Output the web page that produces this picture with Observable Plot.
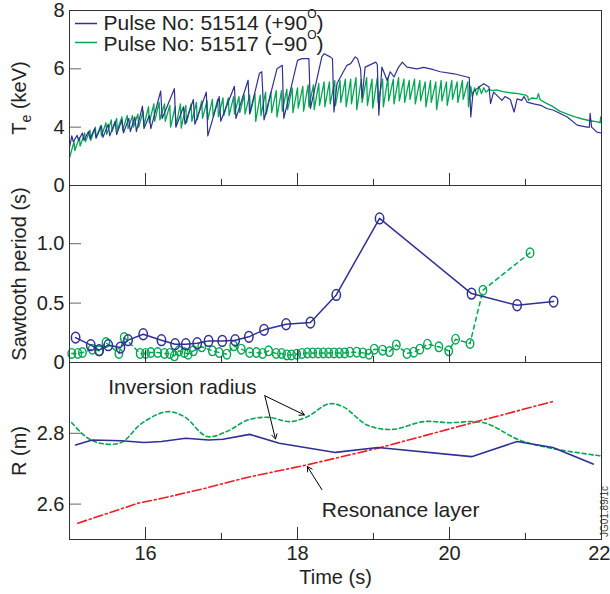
<!DOCTYPE html>
<html><head><meta charset="utf-8">
<script src="https://cdn.jsdelivr.net/npm/d3@7"></script>
<script src="https://cdn.jsdelivr.net/npm/@observablehq/plot@0.6"></script>
<style>
body{margin:0;background:#fff;}
#chart{position:relative;width:610px;height:594px;font-family:"Liberation Sans",Arial,sans-serif;}
#chart svg{position:absolute;left:0;top:0;}
</style></head><body><div id="chart"></div>
<script>
// ---------- DATA ----------
const xTicksMajor = [16, 18, 20, 22];
const xTicksMinor = [17, 19, 21];
const teTicks = [2, 4, 6, 8];
const teTickLabels = ["0", "4", "6", "8"];
const sawTicks = [0, 0.5, 1.0];
const sawTickLabels = ["0", "0.5", "1.0"];
const rTicks = [2.6, 2.8];
const rTickLabels = ["2.6", "2.8"];
const legendLabels = ["Pulse No: 51514 (+90", "Pulse No: 51517 (\u221290"];

// Te traces [time (s), Te (keV)]
const te51514 = [
[15.00,3.30],[15.03,3.70],[15.05,3.50],[15.10,3.72],[15.12,3.55],[15.17,3.80],[15.19,3.55],[15.25,3.85],[15.27,3.60],
[15.33,3.95],[15.35,3.62],[15.42,4.05],[15.44,3.65],[15.51,4.10],[15.53,3.70],[15.60,4.20],[15.62,3.75],[15.69,4.25],
[15.71,3.80],[15.78,4.30],[15.80,3.85],[15.86,4.35],[15.88,3.85],[15.96,4.72],[15.98,3.95],[16.05,4.40],[16.07,3.95],
[16.20,5.24],[16.22,4.30],[16.38,5.32],[16.40,4.00],[16.50,4.70],[16.52,4.10],[16.63,4.95],[16.65,4.10],[16.80,5.20],
[16.82,3.70],[16.97,5.05],[16.99,4.20],[17.17,5.40],[17.19,4.30],[17.35,5.61],[17.37,4.45],[17.50,5.85],[17.53,5.90],
[17.56,4.25],[17.73,6.00],[17.80,6.12],[17.82,4.30],[18.00,6.29],[18.06,6.35],[18.15,6.35],[18.17,4.64],[18.32,6.41],
[18.35,6.52],[18.43,6.41],[18.46,6.35],[18.48,4.52],[18.52,5.50],[18.65,6.12],[18.70,6.18],[18.76,6.41],[18.79,6.35],
[18.83,6.00],[18.85,5.00],[18.89,6.06],[19.03,6.23],[19.05,6.15],[19.07,4.41],[19.11,6.06],[19.18,5.60],[19.22,5.90],
[19.27,5.72],[19.33,6.06],[19.38,6.23],[19.44,6.06],[19.57,6.00],[19.66,6.05],[19.79,5.97],[19.88,5.90],[20.06,5.83],
[20.23,5.72],[20.26,5.70],[20.28,4.35],[20.31,5.20],[20.39,5.38],[20.45,5.49],[20.52,5.38],[20.54,4.81],[20.58,5.20],
[20.69,4.92],[20.73,5.05],[20.80,4.95],[20.85,4.52],[20.89,4.97],[20.95,4.92],[20.98,5.05],[21.02,4.86],[21.11,4.80],
[21.20,4.75],[21.28,4.64],[21.37,4.58],[21.55,4.35],[21.68,4.07],[21.81,4.00],[21.84,4.00],[21.85,4.47],[21.87,4.00],
[21.94,3.83],[22.00,3.80]
];
const te51517 = [
[15.00,2.95],[15.06,3.50],[15.07,3.20],[15.13,3.65],[15.14,3.35],[15.20,3.80],[15.21,3.50],[15.27,3.90],[15.28,3.55],
[15.34,4.00],[15.35,3.65],[15.41,4.05],[15.42,3.70],[15.48,4.15],[15.49,3.75],[15.55,4.25],[15.56,3.85],[15.62,4.30],
[15.63,3.90],[15.69,4.35],[15.70,3.90],[15.76,4.40],[15.77,3.95],[15.83,4.40],[15.84,4.00],[15.90,4.45],[15.91,4.00],
[15.97,4.55],[15.98,4.05],[16.04,4.70],[16.05,4.15],[16.11,4.80],[16.12,4.20],[16.18,4.85],[16.19,4.25],[16.25,4.80],
[16.26,4.20],[16.32,4.75],[16.33,4.00],[16.39,4.70],[16.40,4.05],[16.46,4.80],[16.47,3.97],[16.53,4.75],[16.54,4.15],
[16.60,4.80],[16.61,4.20],[16.67,4.85],[16.68,4.25],[16.74,4.90],[16.75,4.30],[16.81,4.90],[16.82,4.25],[16.88,4.95],
[16.89,4.35],[16.95,4.95],[16.96,4.35],[17.02,5.00],[17.03,4.40],[17.09,5.00],[17.10,4.40],[17.16,5.05],[17.17,4.45],
[17.23,5.05],[17.24,4.50],[17.30,5.10],[17.31,4.45],[17.37,5.10],[17.38,4.50],[17.44,5.15],[17.45,4.20],[17.51,5.10],
[17.52,4.40],[17.58,5.20],[17.59,4.45],[17.65,5.20],[17.66,4.50],[17.72,5.25],[17.73,4.35],[17.79,5.25],[17.80,4.55],
[17.86,5.30],[17.87,4.60],[17.93,5.35],[17.94,4.50],[18.00,5.35],[18.01,4.65],[18.07,5.40],[18.08,4.55],[18.14,5.45],
[18.15,4.70],[18.21,5.45],[18.22,4.60],[18.28,5.50],[18.29,4.75],[18.35,5.55],[18.36,4.70],[18.42,5.55],[18.43,4.80],
[18.49,5.60],[18.50,4.75],[18.56,5.60],[18.57,4.85],[18.63,5.65],[18.64,4.70],[18.70,5.65],[18.71,4.80],[18.77,5.70],
[18.78,4.60],[18.84,5.65],[18.85,4.85],[18.91,5.70],[18.92,4.75],[18.98,5.65],[18.99,4.65],[19.05,5.70],[19.06,4.85],
[19.12,5.65],[19.13,4.70],[19.19,5.70],[19.20,4.90],[19.26,5.65],[19.27,4.80],[19.33,5.70],[19.34,4.90],[19.40,5.65],
[19.41,4.85],[19.47,5.60],[19.48,4.95],[19.54,5.65],[19.55,4.80],[19.61,5.60],[19.62,4.90],[19.68,5.55],[19.69,4.70],
[19.75,5.60],[19.76,4.85],[19.82,5.55],[19.83,4.60],[19.89,5.60],[19.90,4.90],[19.96,5.55],[19.97,4.75],[20.03,5.60],
[20.04,4.95],[20.10,5.55],[20.11,4.85],[20.17,5.60],[20.18,4.95],[20.24,5.55],[20.25,4.70],[20.28,5.40],[20.30,5.05],
[20.33,5.35],[20.36,5.10],[20.39,5.40],[20.42,5.15],[20.45,5.35],[20.48,5.20],[20.52,5.30],[20.56,5.25],[20.62,5.28],
[20.70,5.22],[20.80,5.18],[20.90,5.15],[21.00,5.10],[21.03,5.05],[21.04,4.92],[21.08,5.00],[21.15,4.98],[21.17,5.15],
[21.19,4.95],[21.25,4.85],[21.35,4.72],[21.45,4.55],[21.55,4.45],[21.65,4.35],[21.75,4.28],[21.85,4.22],[21.95,4.18],
[21.98,4.15],[21.99,4.35],[22.00,4.15]
];

// Sawtooth period
const saw51514T = [15.08,15.28,15.39,15.51,15.67,15.77,15.97,16.21,16.39,16.53,16.68,16.83,17.01,17.18,17.36,17.56,17.85,18.17,18.51,19.08,20.29,20.89,21.37];
const saw51514P = [0.21,0.146,0.104,0.146,0.126,0.188,0.238,0.188,0.154,0.154,0.162,0.182,0.182,0.188,0.216,0.275,0.322,0.336,0.569,1.213,0.580,0.482,0.513];
const saw51517T = [15.03,15.11,15.17,15.30,15.39,15.48,15.65,15.72,15.93,16.00,16.07,16.16,16.25,16.32,16.38,16.44,16.51,16.56,16.63,16.74,16.88,16.97,17.07,17.16,17.26,17.37,17.46,17.54,17.62,17.72,17.79,17.86,17.92,17.99,18.06,18.13,18.20,18.27,18.34,18.41,18.48,18.55,18.62,18.69,18.78,18.86,18.94,19.01,19.12,19.21,19.30,19.44,19.53,19.61,19.71,19.86,19.99,20.08,20.27,20.44,21.06];
const saw51517P = [0.076,0.076,0.084,0.112,0.098,0.168,0.076,0.21,0.076,0.076,0.084,0.084,0.076,0.076,0.056,0.098,0.084,0.070,0.098,0.132,0.098,0.084,0.070,0.140,0.112,0.084,0.084,0.076,0.098,0.076,0.076,0.064,0.064,0.070,0.076,0.081,0.081,0.081,0.081,0.081,0.081,0.081,0.081,0.087,0.087,0.081,0.070,0.112,0.104,0.092,0.148,0.076,0.087,0.112,0.154,0.132,0.098,0.196,0.160,0.608,0.924];

// Radii (m)
const inv51514T = [15.08,15.30,15.68,15.98,16.21,16.53,16.83,17.02,17.37,17.76,18.50,19.06,20.29,20.89,21.36,21.89];
const inv51514R = [2.767,2.781,2.779,2.774,2.777,2.786,2.781,2.783,2.797,2.772,2.746,2.760,2.734,2.777,2.760,2.713];
const inv51517T = [15.03,15.21,15.40,15.68,15.95,16.28,16.51,16.81,17.07,17.35,17.62,17.90,18.13,18.41,18.60,18.92,19.25,19.66,19.99,20.45,20.92,21.38,22.00];
const inv51517R = [2.830,2.791,2.772,2.774,2.828,2.861,2.847,2.791,2.805,2.838,2.845,2.833,2.847,2.883,2.875,2.823,2.811,2.833,2.830,2.830,2.781,2.756,2.736];
const resT = [15.11,15.91,16.23,16.79,17.35,18.13,19.06,20.36,21.38];
const resR = [2.546,2.603,2.617,2.645,2.676,2.711,2.758,2.833,2.891];

// ---------- STYLE ----------
const BLUE = "#2e3192", GREEN = "#00a651", RED = "#ed1c24", INK = "#222", FRAME = "#333";
const W = 610, H = 594, ML = 69, MR = 9;
const FW = W - ML - MR;
const FONT = "Liberation Sans, Arial, Helvetica, sans-serif";

const toXY = (T, V) => T.map((t, i) => ({t, v: V[i]}));
const pairs = a => a.map(([t, v]) => ({t, v}));

const ellipse = {draw(ctx, size) {
  const r = Math.sqrt(size / Math.PI), rx = r * 0.78, ry = r, k = 0.5523;
  ctx.moveTo(rx, 0);
  ctx.bezierCurveTo(rx, ry * k, rx * k, ry, 0, ry);
  ctx.bezierCurveTo(-rx * k, ry, -rx, ry * k, -rx, 0);
  ctx.bezierCurveTo(-rx, -ry * k, -rx * k, -ry, 0, -ry);
  ctx.bezierCurveTo(rx * k, -ry, rx, -ry * k, rx, 0);
  ctx.closePath();
}};

function common(frameH, ticks, labels, ylabel, ylabelDx) {
  return [
    Plot.tickX(xTicksMajor, {x: d => d, insetTop: frameH - 12, stroke: FRAME, strokeWidth: 1}),
    Plot.tickX(xTicksMinor, {x: d => d, insetTop: frameH - 6, stroke: FRAME, strokeWidth: 1}),
    Plot.tickY(ticks, {y: d => d, insetRight: FW - 12, stroke: "#666", strokeWidth: 1}),
    Plot.axisY(ticks, {tickSize: 0, tickPadding: 5, tickFormat: d => labels[ticks.indexOf(d)], fontSize: 20, label: null, fill: INK}),
    Plot.text([ylabel], {frameAnchor: "left", dx: ylabelDx, rotate: -90, fontSize: 20, fill: INK, textAnchor: "middle", lineAnchor: "middle"}),
    Plot.frame({stroke: FRAME, strokeWidth: 1})
  ];
}

function panel(top, bottom, yDomain, marks) {
  return Plot.plot({
    width: W, height: H, marginLeft: ML, marginRight: MR, marginTop: top, marginBottom: H - bottom,
    x: {domain: [15, 22], axis: null}, y: {domain: yDomain, axis: null},
    style: {background: "transparent", fontFamily: FONT, fontSize: "20px", color: INK, overflow: "visible"},
    marks
  });
}

// Panel 1: Te
const p1 = panel(10, 185, [2, 8], [
  Plot.line(pairs(te51517), {x: "t", y: "v", stroke: GREEN, strokeWidth: 1.3}),
  Plot.line(pairs(te51514), {x: "t", y: "v", stroke: BLUE, strokeWidth: 1.2}),
  Plot.tickY([8], {y: d => d, dy: 13, insetLeft: 6, insetRight: FW - 28, stroke: BLUE, strokeWidth: 1.5}),
  Plot.tickY([8], {y: d => d, dy: 32, insetLeft: 6, insetRight: FW - 28, stroke: GREEN, strokeWidth: 1.5}),
  Plot.text([legendLabels[0]], {frameAnchor: "top-left", dx: 34, dy: 13, textAnchor: "start", lineAnchor: "middle", fontSize: 21, fill: INK}),
  Plot.text([legendLabels[1]], {frameAnchor: "top-left", dx: 34, dy: 34, textAnchor: "start", lineAnchor: "middle", fontSize: 21, fill: INK}),
  ...common(175, teTicks, teTickLabels, "Te (keV)", -50)
]);

// Panel 2: sawtooth period
const p2 = panel(185, 362, [0, 1.49], [
  Plot.line(toXY(saw51517T, saw51517P), {x: "t", y: "v", stroke: GREEN, strokeWidth: 1.5, strokeDasharray: "4,4"}),
  Plot.dot(toXY(saw51517T, saw51517P), {x: "t", y: "v", stroke: GREEN, r: 4.8, symbol: ellipse, strokeWidth: 1.4, fill: "none"}),
  Plot.line(toXY(saw51514T, saw51514P), {x: "t", y: "v", stroke: BLUE, strokeWidth: 1.5}),
  Plot.dot(toXY(saw51514T, saw51514P), {x: "t", y: "v", stroke: BLUE, r: 5.4, symbol: ellipse, strokeWidth: 1.5, fill: "none"}),
  ...common(177, sawTicks, sawTickLabels, "Sawtooth period (s)", -50)
]);

// Panel 3: radii
const p3 = panel(362, 539, [2.5, 3.0], [
  Plot.line(toXY(resT, resR), {x: "t", y: "v", stroke: RED, strokeWidth: 1.6, strokeDasharray: "9,3,2,3"}),
  Plot.line(toXY(inv51517T, inv51517R), {x: "t", y: "v", stroke: GREEN, strokeWidth: 1.6, strokeDasharray: "4,3", curve: "catmull-rom"}),
  Plot.line(toXY(inv51514T, inv51514R), {x: "t", y: "v", stroke: BLUE, strokeWidth: 1.6}),
  Plot.text(["Inversion radius"], {x: 15.51, y: 2.931, textAnchor: "start", lineAnchor: "middle", fontSize: 21, fill: INK}),
  Plot.text(["Resonance layer"], {x: 18.32, y: 2.582, textAnchor: "start", lineAnchor: "middle", fontSize: 21, fill: INK}),
  Plot.arrow([{x1: 17.57, y1: 2.906, x2: 18.09, y2: 2.852}], {x1: "x1", y1: "y1", x2: "x2", y2: "y2", stroke: "#000", strokeWidth: 1, headLength: 8}),
  Plot.arrow([{x1: 17.57, y1: 2.906, x2: 17.71, y2: 2.784}], {x1: "x1", y1: "y1", x2: "x2", y2: "y2", stroke: "#000", strokeWidth: 1, headLength: 8}),
  Plot.arrow([{x1: 18.32, y1: 2.641, x2: 18.13, y2: 2.706}], {x1: "x1", y1: "y1", x2: "x2", y2: "y2", stroke: "#000", strokeWidth: 1, headLength: 8}),
  Plot.axisX(xTicksMajor.slice(0, 3), {tickSize: 0, tickPadding: 6, fontSize: 20, label: null, fill: INK}),
  Plot.axisX(xTicksMajor.slice(3), {tickSize: 0, tickPadding: 6, fontSize: 20, label: null, fill: INK, textAnchor: "end", dx: 9}),
  Plot.text(["Time (s)"], {frameAnchor: "bottom", dy: 38, fontSize: 20, fill: INK, lineAnchor: "middle"}),
  Plot.text(["JG01.89/1c"], {frameAnchor: "bottom-right", dx: 3, dy: -28, rotate: -90, fontSize: 10, fill: "#444", textAnchor: "middle", lineAnchor: "middle"}),
  ...common(177, rTicks, rTickLabels, "R (m)", -50)
]);

const chart = document.getElementById("chart");
[p1, p2, p3].forEach(p => chart.appendChild(p));

// Rich text: subscript / superscript
d3.select(p1).selectAll("text").each(function() {
  const t = d3.select(this), s = this.textContent;
  if (s === "Te (keV)") {
    t.text(null);
    t.append("tspan").text("T");
    t.append("tspan").attr("dy", 5).attr("font-size", 14).text("e");
    t.append("tspan").attr("dy", -5).text(" (keV)");
  } else if (legendLabels.includes(s)) {
    t.text(null);
    t.append("tspan").text(s);
    t.append("tspan").attr("dy", -12).attr("font-size", 12).text("O");
    t.append("tspan").attr("dy", 12).text(")");
  }
});
</script></body></html>
